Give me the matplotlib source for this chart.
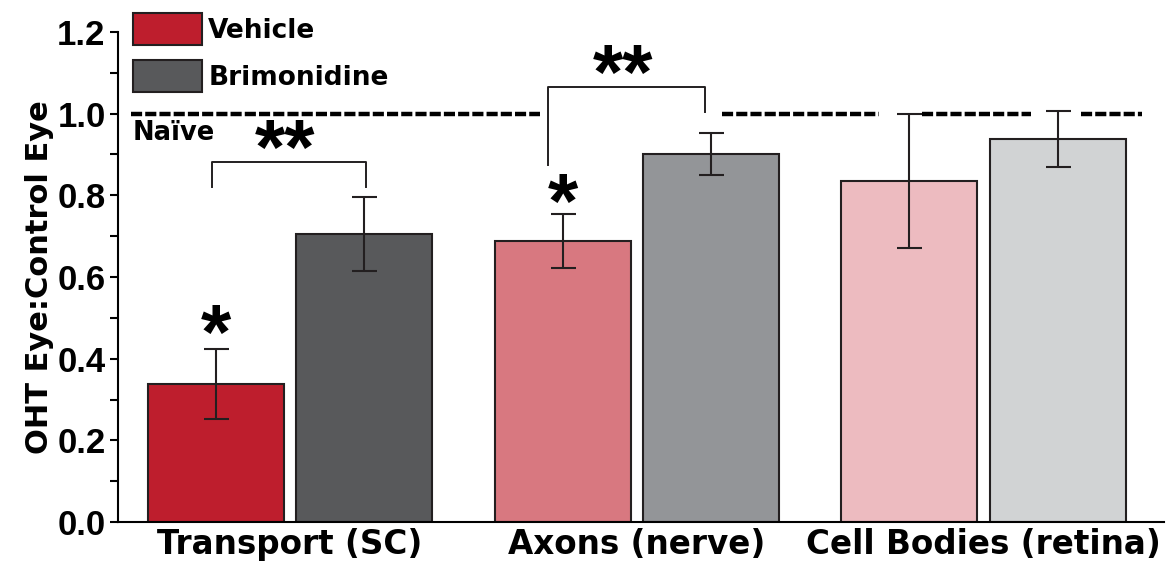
import numpy as np
import matplotlib.pyplot as plt
from matplotlib.patches import Patch
from matplotlib.ticker import MultipleLocator

plt.rcParams['font.family'] = ['Liberation Sans', 'DejaVu Sans']
plt.rcParams['font.weight'] = 'bold'
WIDE = ['DejaVu Sans']

# data
categories = ['Transport (SC)', 'Axons (nerve)', 'Cell Bodies (retina)']
vehicle = [0.338, 0.688, 0.835]
vehicle_err = [0.085, 0.066, 0.163]
brimonidine = [0.705, 0.901, 0.938]
brimonidine_err = [0.09, 0.051, 0.068]
vehicle_colors = ['#BE1E2D', '#D87880', '#EDBBC0']
brim_colors = ['#58595B', '#939598', '#D1D3D4']

x = np.arange(len(categories))
w = 0.392
off = 0.214

fig = plt.figure(figsize=(11.73, 5.66), dpi=100)
ax = fig.add_axes([0.1006, 0.0777, 0.8914, 0.8658])

err_kw = dict(ecolor='#231F20', elinewidth=1.5, capsize=9, capthick=1.5)
ax.bar(x - off, vehicle, w, color=vehicle_colors, edgecolor='#231F20', linewidth=1.5,
       yerr=vehicle_err, error_kw=err_kw, zorder=2)
ax.bar(x + off, brimonidine, w, color=brim_colors, edgecolor='#231F20', linewidth=1.5,
       yerr=brimonidine_err, error_kw=err_kw, zorder=2)

# naive reference line at 1.0, broken around brackets and error bars
segments = [(-0.458, 0.720), (1.245, 1.697), (1.821, 2.138), (2.280, 2.458)]
for a, b in segments:
    ax.plot([a, b], [1.0, 1.0], color='black', lw=3.2, dashes=(2.5, 0.7),
            solid_capstyle='butt', dash_capstyle='butt', zorder=3)
ax.text(-0.455, 0.952, 'Naïve', fontsize=18.5, fontweight='bold', family=WIDE,
        va='center', ha='left')

# significance brackets
star_kw = dict(fontsize=56, fontweight='bold', ha='center', va='baseline')
ax.plot([-0.225, -0.225, 0.218, 0.218], [0.82, 0.881, 0.881, 0.82], color='#231F20', lw=1.4)
ax.text(-0.015, 0.852, '**', **star_kw)
ax.plot([0.743, 0.743, 1.196, 1.196], [0.874, 1.065, 1.065, 1.004], color='#231F20', lw=1.4)
ax.text(0.96, 1.036, '**', **star_kw)
ax.text(x[0] - off, 0.40, '*', **star_kw)
ax.text(x[1] - off, 0.72, '*', **star_kw)

ax.set_xlim(-0.496, 2.519)
ax.set_ylim(0, 1.2)
ax.set_xticks(x)
ax.set_xticklabels(categories, fontsize=23.5, fontweight='bold', family=WIDE)
ax.tick_params(axis='x', length=0, pad=4)
ax.yaxis.set_major_locator(MultipleLocator(0.2))
ax.yaxis.set_minor_locator(MultipleLocator(0.1))
ax.set_yticklabels([f'{v:.1f}' for v in ax.get_yticks()], fontsize=25, fontweight='bold')
ax.tick_params(axis='y', which='both', direction='out', length=6, width=1.5, pad=3)
ax.set_ylabel('OHT Eye:Control Eye', fontsize=22, fontweight='bold', family=WIDE, labelpad=2)
for s in ['top', 'right']:
    ax.spines[s].set_visible(False)
for s in ['left', 'bottom']:
    ax.spines[s].set_linewidth(1.5)

handles = [Patch(facecolor=vehicle_colors[0], edgecolor='#231F20', lw=1.5, label='Vehicle'),
           Patch(facecolor=brim_colors[0], edgecolor='#231F20', lw=1.5, label='Brimonidine')]
fig.legend(handles=handles, loc='upper left', bbox_to_anchor=(133 / 1173, 1 - 13 / 566),
           frameon=False, prop={'family': WIDE, 'weight': 'bold', 'size': 19},
           handlelength=2.6, handleheight=1.5, handletextpad=0.25, labelspacing=0.55,
           borderpad=0, borderaxespad=0)

fig.savefig('out.png', dpi=100)
